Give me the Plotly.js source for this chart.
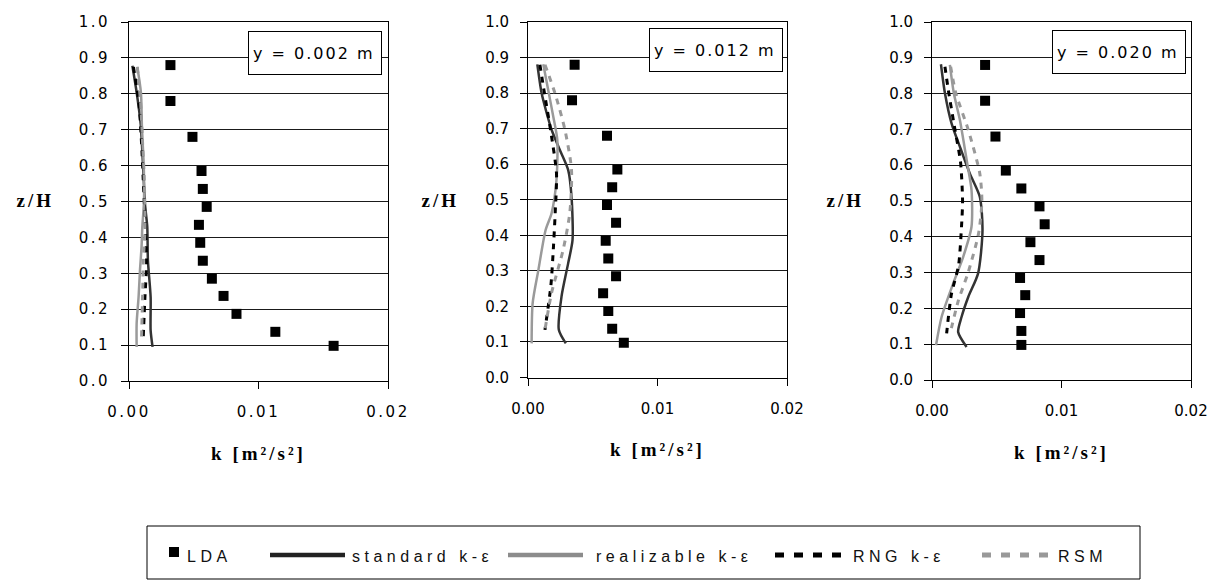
<!DOCTYPE html>
<html><head><meta charset="utf-8">
<script src="https://cdn.plot.ly/plotly-3.0.1.min.js"></script>
<style>
body{margin:0;background:#fff}
#chart{width:1227px;height:581px}
</style></head><body><div id="chart"></div>
<script>
// ---------------- data ----------------
const panelLabels = ['y = 0.002 m', 'y = 0.012 m', 'y = 0.020 m'];
const seriesNames = ['LDA', 'standard k-ε', 'realizable k-ε', 'RNG k-ε', 'RSM'];
const xTitle = 'k [m²/s²]';
const yTitle = 'z/H';
const xTickVals = [0, 0.01, 0.02];
const xTickText = ['0.00', '0.01', '0.02'];
const yTickVals = [0, 0.1, 0.2, 0.3, 0.4, 0.5, 0.6, 0.7, 0.8, 0.9, 1.0];

const zLDA = [0.88, 0.78, 0.68, 0.585, 0.535, 0.485, 0.435, 0.385, 0.335, 0.285, 0.237, 0.187, 0.137, 0.098];
const kLDA_1 = [0.0032, 0.0032, 0.0049, 0.0056, 0.0057, 0.0060, 0.0054, 0.0055, 0.0057, 0.0064, 0.0073, 0.0083, 0.0113, 0.0158];
const kLDA_2 = [0.0036, 0.0034, 0.0061, 0.0069, 0.0065, 0.0061, 0.0068, 0.0060, 0.0062, 0.0068, 0.0058, 0.0062, 0.0065, 0.0074];
const kLDA_3 = [0.0041, 0.0041, 0.0049, 0.0057, 0.0069, 0.0083, 0.0087, 0.0076, 0.0083, 0.0068, 0.0072, 0.0068, 0.0069, 0.0069];

// panel 1 (y = 0.002 m)
const zStd_1 = [0.878, 0.804, 0.716, 0.587, 0.494, 0.43, 0.336, 0.234, 0.141, 0.095];
const kStd_1 = [0.00026, 0.00059, 0.0009, 0.0011, 0.00123, 0.00141, 0.00146, 0.00167, 0.00167, 0.00182];
const zReal_1 = [0.875, 0.804, 0.707, 0.587, 0.494, 0.43, 0.374, 0.31, 0.234, 0.16, 0.095];
const kReal_1 = [0.00064, 0.00092, 0.001, 0.00115, 0.00115, 0.00103, 0.00097, 0.00085, 0.00074, 0.00059, 0.00059];
const zRng_1 = [0.875, 0.773, 0.662, 0.56, 0.421, 0.33, 0.234, 0.123];
const kRng_1 = [0.00034, 0.00077, 0.00097, 0.0011, 0.00128, 0.00136, 0.00123, 0.0011];
const zRsm_1 = [0.875, 0.773, 0.662, 0.56, 0.421, 0.33, 0.234, 0.123];
const kRsm_1 = [0.00064, 0.0009, 0.00105, 0.00118, 0.00123, 0.0011, 0.00105, 0.00097];

// panel 2 (y = 0.012 m)
const zStd_2 = [0.881, 0.8, 0.744, 0.697, 0.64, 0.584, 0.509, 0.387, 0.321, 0.228, 0.134, 0.096];
const kStd_2 = [0.00072, 0.00105, 0.00144, 0.00182, 0.00246, 0.0031, 0.00336, 0.00344, 0.0031, 0.00259, 0.00238, 0.00292];
const zReal_2 = [0.881, 0.809, 0.734, 0.669, 0.556, 0.462, 0.415, 0.302, 0.209, 0.096];
const kReal_2 = [0.00118, 0.00156, 0.00195, 0.00226, 0.0022, 0.00182, 0.00136, 0.0008, 0.00036, 0.00028];
const zRng_2 = [0.88, 0.809, 0.678, 0.574, 0.464, 0.37, 0.26, 0.134];
const kRng_2 = [0.00092, 0.00123, 0.00182, 0.0022, 0.0021, 0.00197, 0.00177, 0.00131];
const zRsm_2 = [0.88, 0.8, 0.697, 0.584, 0.464, 0.36, 0.238, 0.134];
const kRsm_2 = [0.00131, 0.00208, 0.00285, 0.00336, 0.00323, 0.00272, 0.00182, 0.00131];

// panel 3 (y = 0.020 m)
const zStd_3 = [0.882, 0.801, 0.717, 0.652, 0.577, 0.512, 0.419, 0.298, 0.232, 0.176, 0.134, 0.092];
const kStd_3 = [0.00069, 0.001, 0.00151, 0.00215, 0.00292, 0.00369, 0.0039, 0.00356, 0.0028, 0.00228, 0.00202, 0.00267];
const zReal_3 = [0.88, 0.8, 0.727, 0.605, 0.531, 0.428, 0.344, 0.27, 0.176, 0.097];
const kReal_3 = [0.00138, 0.00169, 0.00215, 0.00272, 0.00305, 0.00305, 0.00241, 0.00164, 0.00074, 0.00031];
const zRng_3 = [0.875, 0.81, 0.7, 0.61, 0.5, 0.43, 0.32, 0.24, 0.13];
const kRng_3 = [0.001, 0.00126, 0.00177, 0.0022, 0.00236, 0.00228, 0.00205, 0.0015, 0.00113];
const zRsm_3 = [0.875, 0.8, 0.7, 0.577, 0.5, 0.41, 0.3, 0.22, 0.13];
const kRsm_3 = [0.00144, 0.00185, 0.00279, 0.00369, 0.00385, 0.0036, 0.00279, 0.00202, 0.0014];

// ---------------- layout helpers ----------------
const W = 1227, H = 581;
const px = x => x / W;
const py = y => 1 - y / H;

const panels = [
  {lda: kLDA_1, std: [kStd_1, zStd_1], real: [kReal_1, zReal_1], rng: [kRng_1, zRng_1], rsm: [kRsm_1, zRsm_1],
   left: 129, right: 388, top: 22, bottom: 381, box: [248, 31], ytitle: 35},
  {lda: kLDA_2, std: [kStd_2, zStd_2], real: [kReal_2, zReal_2], rng: [kRng_2, zRng_2], rsm: [kRsm_2, zRsm_2],
   left: 528, right: 787, top: 22, bottom: 377.5, box: [649, 28], ytitle: 440},
  {lda: kLDA_3, std: [kStd_3, zStd_3], real: [kReal_3, zReal_3], rng: [kRng_3, zRng_3], rsm: [kRsm_3, zRsm_3],
   left: 932, right: 1191, top: 22, bottom: 380, box: [1052, 30], ytitle: 845}
];

const styles = {
  std: {color: '#333333', width: 2.5, dash: 'solid'},
  real: {color: '#9a9a9a', width: 2.5, dash: 'solid'},
  rng: {color: '#000000', width: 3, dash: '6px,6px'},
  rsm: {color: '#999999', width: 3, dash: '6px,6px'}
};

const traces = [];
const layout = {
  width: W, height: H,
  margin: {l: 0, r: 0, t: 0, b: 0},
  paper_bgcolor: '#fff', plot_bgcolor: '#fff',
  showlegend: false,
  annotations: [], shapes: []
};
const spacing = [];
const leftAt = [];
const tickFont = {family: 'DejaVu Sans', size: 15, color: '#000'};
const titleFont = {family: 'Liberation Serif', size: 19, color: '#000', weight: 'bold'};

panels.forEach((p, i) => {
  const n = i === 0 ? '' : String(i + 1);
  const xa = 'x' + n, ya = 'y' + n;
  ['std', 'real', 'rng', 'rsm'].forEach((key, j) => {
    const s = styles[key];
    traces.push({
      type: 'scatter', mode: 'lines', name: seriesNames[j + 1],
      x: p[key][0], y: p[key][1], xaxis: xa, yaxis: ya,
      line: {color: s.color, width: s.width, dash: s.dash, shape: 'spline', smoothing: 0.7},
      hoverinfo: 'skip'
    });
  });
  traces.push({
    type: 'scatter', mode: 'markers', name: seriesNames[0],
    x: p.lda, y: zLDA, xaxis: xa, yaxis: ya,
    marker: {symbol: 'square', size: 10, color: '#000'},
    hoverinfo: 'skip'
  });
  layout['xaxis' + n] = {
    domain: [px(p.left), px(p.right)], anchor: ya,
    range: [0, 0.02], tickvals: xTickVals, ticktext: xTickText,
    showgrid: false, zeroline: false,
    showline: true, mirror: true, linecolor: '#000', linewidth: 1,
    ticks: 'outside', ticklen: 7, tickcolor: '#000', ticklabelstandoff: 10,
    tickfont: tickFont,
    title: {text: xTitle, font: titleFont, standoff: 26}
  };
  layout['yaxis' + n] = {
    domain: [py(p.bottom), py(p.top)], anchor: xa,
    range: [0, 1], tickvals: yTickVals, tickformat: '.1f',
    showgrid: true, gridcolor: '#1a1a1a', gridwidth: 1, zeroline: false,
    showline: true, mirror: true, linecolor: '#000', linewidth: 1,
    ticks: 'outside', ticklen: 7, tickcolor: '#000', ticklabelstandoff: 8,
    tickfont: tickFont
  };
  // panel label box
  layout.annotations.push({
    xref: 'paper', yref: 'paper', x: px(p.box[0]), y: py(p.box[1]),
    xanchor: 'left', yanchor: 'top', text: panelLabels[i], showarrow: false,
    width: 124, height: 34, align: 'left', valign: 'middle',
    bgcolor: '#fff', bordercolor: '#000', borderwidth: 1, borderpad: 4,
    font: {family: 'DejaVu Sans', size: 16, color: '#000'}
  });
  spacing.push('2px'); leftAt.push(null);
  // horizontal y-axis title
  layout.annotations.push({
    xref: 'paper', yref: 'paper', x: px(p.ytitle), y: py(201),
    xanchor: 'center', yanchor: 'middle', showarrow: false,
    text: yTitle, font: titleFont
  });
  spacing.push('3px'); leftAt.push(null);
});

// ---------------- legend (drawn in paper space) ----------------
const legFont = {family: 'Liberation Sans', size: 16, color: '#111'};
const legY = 555;
layout.shapes.push({type: 'rect', xref: 'paper', yref: 'paper',
  x0: px(147), x1: px(1140), y0: py(526), y1: py(579),
  line: {color: '#000', width: 1}, fillcolor: 'rgba(0,0,0,0)'});
layout.shapes.push({type: 'rect', xref: 'paper', yref: 'paper',
  x0: px(169), x1: px(179), y0: py(547), y1: py(557),
  line: {width: 0}, fillcolor: '#000'});
const legLines = [
  {x0: 270, x1: 345, color: '#222', width: 4.5, dash: 'solid'},
  {x0: 508, x1: 583, color: '#8c8c8c', width: 4.5, dash: 'solid'},
  {x0: 775, x1: 841, color: '#000', width: 5, dash: '9px,10px'},
  {x0: 982, x1: 1048, color: '#999', width: 5, dash: '9px,10px'}
];
legLines.forEach(l => layout.shapes.push({type: 'line', xref: 'paper', yref: 'paper',
  x0: px(l.x0), x1: px(l.x1), y0: py(legY), y1: py(legY),
  line: {color: l.color, width: l.width, dash: l.dash}}));
const legTextX = [187, 352, 596, 853, 1058];
seriesNames.forEach((nm, i) => {
  layout.annotations.push({
    xref: 'paper', yref: 'paper', x: px(legTextX[i]), y: py(legY + 1),
    xanchor: 'left', yanchor: 'middle', showarrow: false, text: nm, font: legFont
  });
  spacing.push('4.5px'); leftAt.push(legTextX[i]);
});

Plotly.newPlot('chart', traces, layout, {staticPlot: true, displayModeBar: false}).then(gd => {
  const base = gd.getBoundingClientRect();
  gd.querySelectorAll('.xtick text, .ytick text').forEach(t => { t.style.letterSpacing = '2.5px'; });
  gd.querySelectorAll('text.xtitle, text.x2title, text.x3title').forEach(t => { t.style.letterSpacing = '3px'; });
  gd.querySelectorAll('g.annotation').forEach(g => {
    const idx = +g.getAttribute('data-index');
    const t = g.querySelector('text');
    if (!t) return;
    t.style.letterSpacing = spacing[idx];
    if (leftAt[idx] != null) {
      const r = t.getBoundingClientRect();
      const dx = leftAt[idx] - (r.left - base.left);
      t.setAttribute('x', (parseFloat(t.getAttribute('x')) || 0) + dx);
    }
  });
});
</script></body></html>
